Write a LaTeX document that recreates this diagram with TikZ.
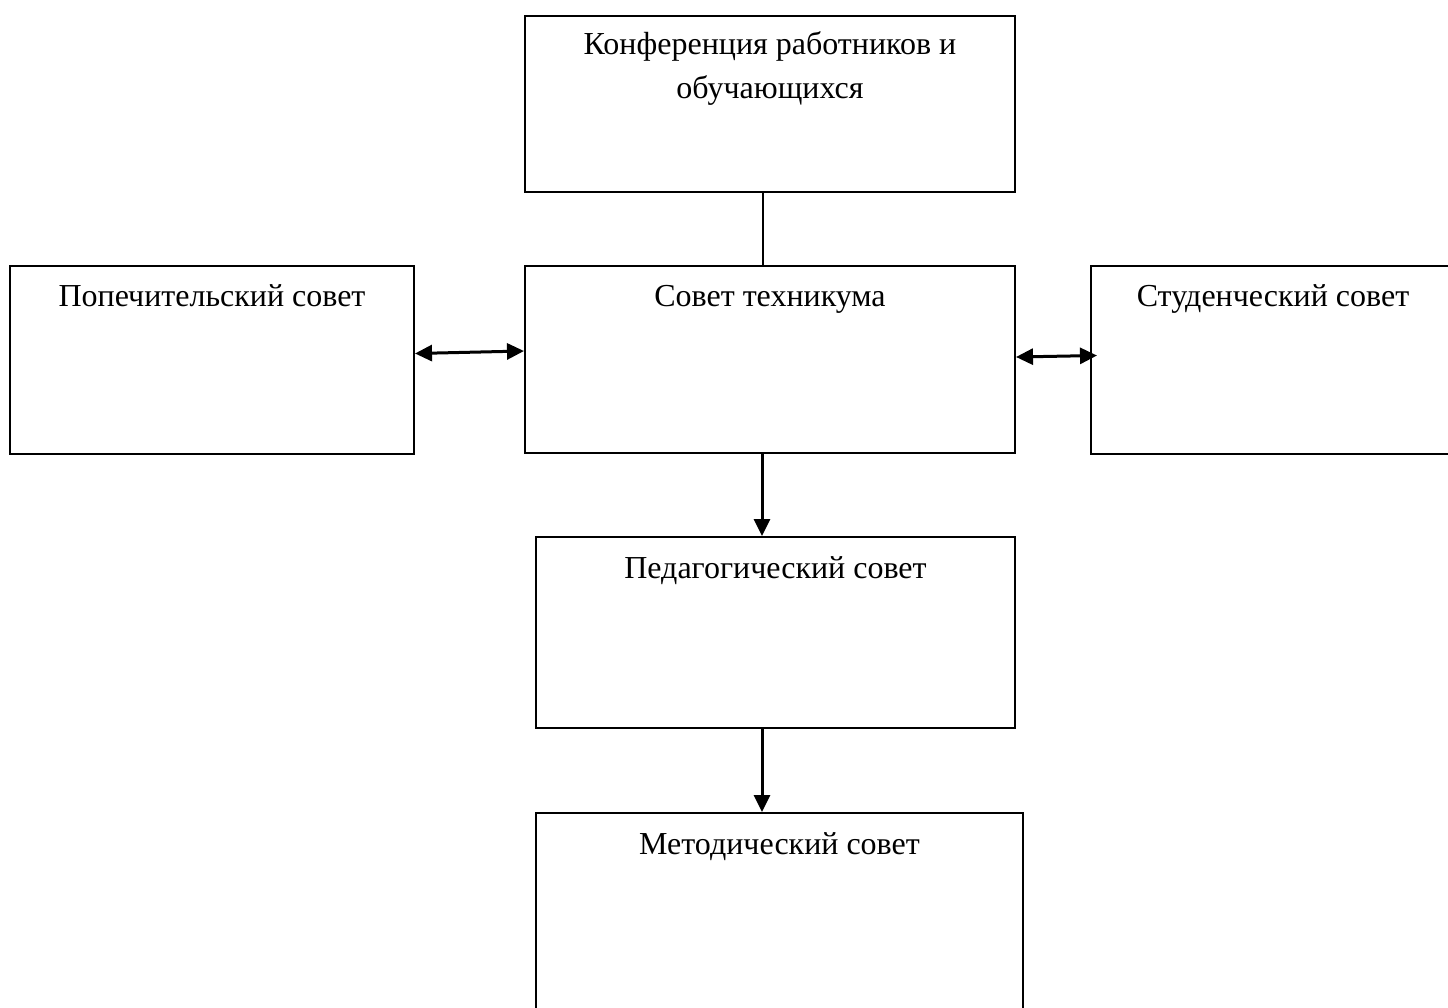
\documentclass[tikz,border=0pt]{standalone}
\usepackage{fontspec}
\setmainfont{Liberation Serif}
\usetikzlibrary{positioning,arrows.meta}
\tikzset{
  council/.style={
    draw, line width=1pt, inner sep=0pt
  },
  title/.style={
    anchor=north, inner sep=0pt, yshift=-10pt, align=center,
    font=\fontsize{16}{22}\selectfont
  },
  link/.style={
    line width=1.5pt, -{Triangle[length=8.5pt,width=8pt]}
  },
  twoway/.style={
    line width=1.5pt, {Triangle[length=8.5pt,width=8pt]}-{Triangle[length=8.5pt,width=8pt]}
  }
}

\begin{document}
\begin{tikzpicture}
        \useasboundingbox (0,0) rectangle (724pt,-504pt);
        \node [council, minimum width=245pt, minimum height=93.5pt] (Sovet) at (385pt,-179.75pt) {};
        \node [on grid, above=127.75pt of Sovet, council, minimum width=245pt, minimum height=88pt] (Konf) {};
        \node [on grid, left=279pt of Sovet, council, minimum width=202pt, minimum height=94pt] (Popech) {};
        \node [on grid, right=251.5pt of Sovet, council, minimum width=182pt, minimum height=94pt] (Stud) {};
        \node [on grid, below right=136.5pt and 2.75pt of Sovet, council, minimum width=239.5pt, minimum height=95.5pt] (Pedag) {};
        \node [on grid, below right=277.5pt and 4.75pt of Sovet, council, minimum width=243.5pt, minimum height=101.5pt] (Metod) {};
        % titles at the top of each box
        \node [title, yshift=2pt] (KonfT) at (Konf.north) {Конференция работников и\\обучающихся};
        \node [title] (SovetT) at (Sovet.north) {Совет техникума};
        \node [title] (PopechT) at (Popech.north) {Попечительский совет};
        \node [title] (StudT) at (Stud.north) {Студенческий совет};
        \node [title] (PedagT) at (Pedag.north) {Педагогический совет};
        \node [title] (MetodT) at (Metod.north) {Методический совет};
        \draw [line width=0.75pt] ([xshift=-3.5pt]Konf.south) to ([xshift=-3.5pt]Sovet.north);
        \draw [twoway] ([yshift=3pt]Popech.east) to ([yshift=4.25pt]Sovet.west);
        \draw [twoway] ([yshift=1.25pt]Sovet.east) to ([xshift=3.5pt,yshift=2pt]Stud.west);
        \draw [link] ([xshift=-4pt]Sovet.south) to ([xshift=-6.75pt]Pedag.north);
        \draw [link] ([xshift=-6.75pt]Pedag.south) to ([xshift=-8.75pt]Metod.north);
      \end{tikzpicture}
\end{document}
